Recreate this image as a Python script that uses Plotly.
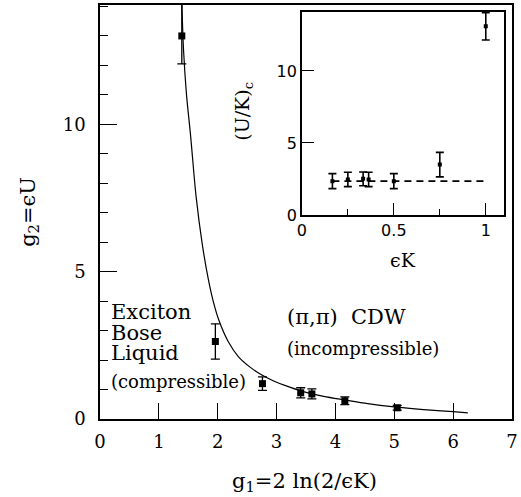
import plotly.graph_objects as go

# Main panel: phase boundary in the (g1, g2) plane
g1_pts = [1.39, 1.96, 2.76, 3.41, 3.60, 4.16, 5.05]
g2_pts = [13.0, 2.63, 1.20, 0.89, 0.85, 0.62, 0.38]
g2_err_plus = [1.2, 0.60, 0.23, 0.17, 0.17, 0.13, 0.08]
g2_err_minus = [0.95, 0.60, 0.23, 0.17, 0.17, 0.13, 0.08]

# Boundary curve traced through the points of the phase line
curve_g1 = [1.39, 1.42, 1.47, 1.54, 1.63, 1.74, 1.84, 1.93, 2.02, 2.18, 2.35, 2.55, 2.75,
            2.95, 3.14, 3.47, 3.80, 4.15, 4.55, 5.0, 5.5, 6.0, 6.25]
curve_g2 = [14.1, 12.5, 11.0, 9.6, 7.6, 5.9, 4.75, 3.95, 3.35, 2.62, 2.12, 1.76, 1.49,
            1.29, 1.14, 0.92, 0.77, 0.65, 0.52, 0.41, 0.32, 0.25, 0.21]

# Inset: critical (U/K)_c versus eps*K
eK = [0.166, 0.25, 0.333, 0.363, 0.5, 0.75, 1.0]
UK_c = [2.35, 2.47, 2.51, 2.47, 2.35, 3.5, 13.1]
UK_err = [0.52, 0.50, 0.48, 0.50, 0.52, 0.85, 0.95]
UK_level = 2.35  # constant value drawn as dashed line
level_x = [0.166, 1.0]

main_x_ticks = [0, 1, 2, 3, 4, 5, 6, 7]
main_y_ticks = [0, 5, 10]
inset_x_ticks = [0, 0.5, 1]
inset_x_labels = ["0", "0.5", "1"]
inset_y_ticks = [0, 5, 10]

SERIF = "DejaVu Serif"
SANS = "DejaVu Sans"

fig = go.Figure()

fig.add_trace(go.Scatter(
    x=curve_g1, y=curve_g2, mode="lines",
    line=dict(color="black", width=1.2, shape="spline", smoothing=0.8),
    xaxis="x", yaxis="y", showlegend=False, hoverinfo="skip"))

fig.add_trace(go.Scatter(
    x=g1_pts, y=g2_pts, mode="markers",
    marker=dict(symbol="square", size=7, color="black"),
    error_y=dict(type="data", symmetric=False, array=g2_err_plus,
                 arrayminus=g2_err_minus, color="black", thickness=1.3, width=4.5),
    xaxis="x", yaxis="y", showlegend=False))

fig.add_trace(go.Scatter(
    x=level_x, y=[UK_level, UK_level], mode="lines",
    line=dict(color="black", width=1.6, dash="7px,5px"),
    xaxis="x2", yaxis="y2", showlegend=False, hoverinfo="skip"))

fig.add_trace(go.Scatter(
    x=eK, y=UK_c, mode="markers",
    marker=dict(symbol="square", size=4, color="black"),
    error_y=dict(type="data", array=UK_err, color="black", thickness=1.6, width=4),
    xaxis="x2", yaxis="y2", showlegend=False))

axis_common = dict(showline=True, linecolor="black", mirror=True, showgrid=False,
                   zeroline=False, ticks="inside", tickcolor="black")

fig.update_layout(
    width=521, height=497,
    margin=dict(l=100, r=4, t=3, b=78),
    paper_bgcolor="white", plot_bgcolor="white",
    font=dict(color="black"),
    xaxis=dict(domain=[0, 1], range=[0, 7], tickvals=main_x_ticks,
               ticklen=16, tickwidth=1.2, linewidth=1.6,
               tickfont=dict(family=SERIF, size=18, color="black"),
               ticklabelstandoff=6, ticklabeloverflow="allow", **axis_common),
    yaxis=dict(domain=[0, 1], range=[0, 14.05], tickvals=main_y_ticks,
               ticklen=17, tickwidth=1.2, linewidth=1.6,
               minor=dict(dtick=1, ticklen=8, ticks="inside", tickcolor="black", tickwidth=1.2),
               tickfont=dict(family=SERIF, size=18, color="black"),
               ticklabelstandoff=9, **axis_common),
    xaxis2=dict(domain=[0.490, 0.981], anchor="y2", range=[0, 1.1],
                tickvals=inset_x_ticks, ticktext=inset_x_labels,
                ticklen=12, tickwidth=1.2, linewidth=1.6,
                minor=dict(tickvals=[0.25, 0.75], ticklen=6, ticks="inside", tickcolor="black", tickwidth=1.2),
                tickfont=dict(family=SANS, size=16, color="black"),
                **axis_common),
    yaxis2=dict(domain=[0.4928, 0.9832], anchor="x2", range=[0, 14.1],
                tickvals=inset_y_ticks,
                ticklen=12, tickwidth=1.2, linewidth=1.6,
                tickfont=dict(family=SANS, size=16, color="black"),
                **axis_common),
)

def px_x(p):
    return (p - 100) / 417.0

def px_y(p):
    return (419 - p) / 416.0

notes = [
    # axis titles
    dict(text="g<sub>1</sub>=2 ln(2/ϵK)", x=px_x(307), y=px_y(482), size=21, angle=0),
    dict(text="g<sub>2</sub>=ϵU", x=px_x(28), y=px_y(211), size=21, angle=-90),
    dict(text="(U/K)<sub>c</sub>", x=px_x(245), y=px_y(110), size=19, angle=-90),
    dict(text="ϵK", x=px_x(407), y=px_y(259), size=19, angle=0),
]
for n in notes:
    fig.add_annotation(text=n["text"], xref="paper", yref="paper", x=n["x"], y=n["y"],
                       xanchor="center", yanchor="middle", textangle=n["angle"],
                       showarrow=False, font=dict(family=SERIF, size=n["size"], color="black"))

# phase labels in data coordinates of the main panel
labels = [
    ("Exciton", 0.15, 3.62, 21),
    ("Bose", 0.15, 2.92, 21),
    ("Liquid", 0.15, 2.24, 21),
    ("(compressible)", 0.15, 1.27, 18),
    ("(π,π)\u00a0\u00a0CDW", 3.14, 3.46, 21),
    ("(incompressible)", 3.14, 2.40, 18),
]
for txt, x, y, s in labels:
    fig.add_annotation(text=txt, x=x, y=y, xref="x", yref="y", xanchor="left",
                       yanchor="middle", showarrow=False,
                       font=dict(family=SERIF, size=s, color="black"))

fig.write_html("out.html")
